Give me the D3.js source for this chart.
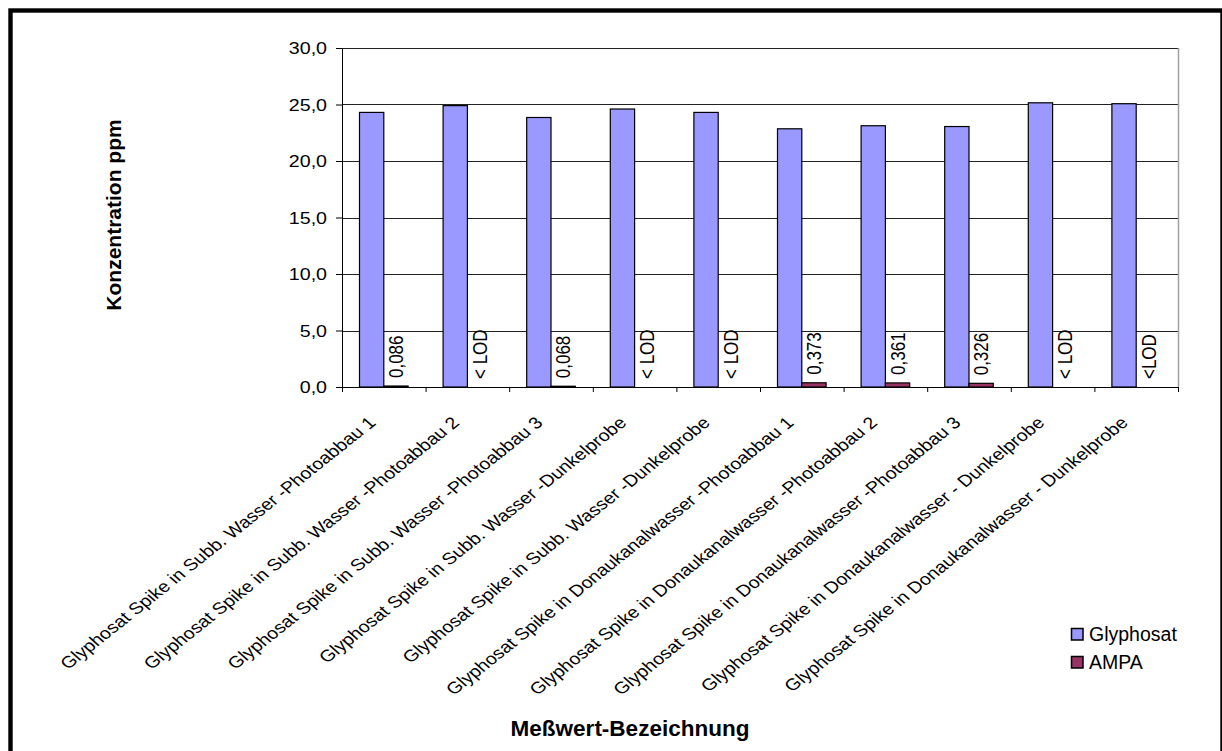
<!DOCTYPE html>
<html>
<head>
<meta charset="utf-8">
<script src="https://cdn.jsdelivr.net/npm/d3@7"></script>
<style>
  html, body { margin: 0; padding: 0; background: #fff; }
  svg { display: block; font-family: "Liberation Sans", Arial, sans-serif; }
</style>
</head>
<body>
<svg id="chart" width="1222" height="751"></svg>
<script>
// ---------------- data ----------------
const categories = [
  "Glyphosat Spike in Subb. Wasser -Photoabbau 1",
  "Glyphosat Spike in Subb. Wasser -Photoabbau 2",
  "Glyphosat Spike in Subb. Wasser -Photoabbau 3",
  "Glyphosat Spike in Subb. Wasser -Dunkelprobe",
  "Glyphosat Spike in Subb. Wasser -Dunkelprobe",
  "Glyphosat Spike in Donaukanalwasser -Photoabbau 1",
  "Glyphosat Spike in Donaukanalwasser -Photoabbau 2",
  "Glyphosat Spike in Donaukanalwasser -Photoabbau 3",
  "Glyphosat Spike in Donaukanalwasser - Dunkelprobe",
  "Glyphosat Spike in Donaukanalwasser - Dunkelprobe"
];
const glyphosat = [24.3, 24.9, 23.85, 24.6, 24.3, 22.85, 23.12, 23.05, 25.15, 25.07];
const ampa = [0.086, 0, 0.068, 0, 0, 0.373, 0.361, 0.326, 0, 0];
const ampaLabels = ["0,086", "< LOD", "0,068", "< LOD", "< LOD", "0,373", "0,361", "0,326", "< LOD", "<LOD"];
const seriesNames = ["Glyphosat", "AMPA"];
const seriesColors = ["#9999FF", "#993366"];
const yTicks = [0, 5, 10, 15, 20, 25, 30];
const yTitle = "Konzentration ppm";
const xTitle = "Meßwert-Bezeichnung";

// ---------------- layout ----------------
const plot = { left: 342, right: 1178, top: 48, bottom: 387 };
const SX = 1.19; // horizontal stretch of the reference text

const svg = d3.select("#chart");

// outer border
svg.append("rect")
  .attr("x", 10.5).attr("y", 10.5)
  .attr("width", 1212).attr("height", 800)
  .attr("fill", "none").attr("stroke", "#000").attr("stroke-width", 4.4);

const idx = d3.range(categories.length);
const x = d3.scaleBand().domain(idx).range([plot.left, plot.right]).paddingInner(0).paddingOuter(0);
const xs = d3.scaleBand().domain(seriesNames).range([0, x.bandwidth()]).paddingInner(0).paddingOuter(0.72);
const xLin = d3.scaleLinear().domain([0, categories.length]).range([plot.left, plot.right]);
const y = d3.scaleLinear().domain([0, 30]).range([plot.bottom, plot.top]);

// gridlines
svg.append("g").selectAll("line").data(yTicks.filter(d => d > 0)).join("line")
  .attr("x1", plot.left).attr("x2", plot.right)
  .attr("y1", d => Math.round(y(d)) + 0.5).attr("y2", d => Math.round(y(d)) + 0.5)
  .attr("stroke", "#222").attr("stroke-width", 1);

// right plot border
svg.append("line")
  .attr("x1", plot.right + 0.5).attr("x2", plot.right + 0.5)
  .attr("y1", plot.top).attr("y2", plot.bottom)
  .attr("stroke", "#a0a0a0").attr("stroke-width", 1.5);

// bars
const data = [glyphosat, ampa];
const gBars = svg.append("g");
seriesNames.forEach((s, si) => {
  gBars.append("g").selectAll("rect").data(data[si]).join("rect")
    .attr("x", (d, i) => x(i) + xs(s))
    .attr("y", d => y(d))
    .attr("width", xs.bandwidth())
    .attr("height", d => y(0) - y(d))
    .attr("fill", seriesColors[si])
    .attr("stroke", "#000").attr("stroke-width", 1.2);
});

// y axis
const yAxis = svg.append("g")
  .attr("transform", `translate(${plot.left},0)`)
  .call(d3.axisLeft(y).tickValues(yTicks).tickSize(6).tickSizeOuter(0)
    .tickFormat(d => d.toFixed(1).replace(".", ",")));
yAxis.select(".domain").attr("stroke", "#000");
yAxis.selectAll(".tick line").attr("stroke", "#000");
yAxis.selectAll(".tick text")
  .attr("x", null).attr("dy", "0.36em")
  .attr("transform", `translate(-15,0) scale(${SX},1)`)
  .attr("text-anchor", "end")
  .attr("font-size", 16.5).attr("fill", "#000")
  .attr("font-family", "Liberation Sans, Arial, sans-serif");

// x axis (ticks at category boundaries)
const xAxis = svg.append("g")
  .attr("transform", `translate(0,${plot.bottom})`)
  .call(d3.axisBottom(xLin).tickValues(d3.range(categories.length + 1)).tickSize(5).tickSizeOuter(0).tickFormat(""));
xAxis.select(".domain").attr("stroke", "#000");
xAxis.selectAll(".tick line").attr("stroke", "#000");

// x category labels
svg.append("g").selectAll("text").data(categories).join("text")
  .attr("transform", (d, i) => `translate(${x(i) + x.bandwidth() / 2 - 7},424) scale(${SX},1) rotate(-43.5)`)
  .attr("text-anchor", "end")
  .attr("font-size", 16.5).attr("fill", "#000")
  .text(d => d);

// AMPA value labels
svg.append("g").selectAll("text").data(ampaLabels).join("text")
  .attr("transform", (d, i) => `translate(${x(i) + xs("AMPA") + xs.bandwidth() / 2},${y(ampa[i]) - 8}) scale(${SX},1) rotate(-90)`)
  .attr("dy", "0.36em")
  .attr("text-anchor", "start")
  .attr("font-size", 17).attr("fill", "#000")
  .text(d => d);

// axis titles
svg.append("text")
  .attr("transform", `translate(121,215) rotate(-90)`)
  .attr("text-anchor", "middle")
  .attr("font-size", 21).attr("font-weight", "bold")
  .text(yTitle);
svg.append("text")
  .attr("x", 630).attr("y", 736)
  .attr("text-anchor", "middle")
  .attr("font-size", 22.5).attr("font-weight", "bold")
  .text(xTitle);

// legend
const legend = svg.append("g").selectAll("g").data(seriesNames).join("g")
  .attr("transform", (d, i) => `translate(1071,${628 + i * 28})`);
legend.append("rect")
  .attr("x", 0.5).attr("y", 0.5).attr("width", 11.5).attr("height", 11.5)
  .attr("fill", (d, i) => seriesColors[i])
  .attr("stroke", "#000").attr("stroke-width", 1.5);
legend.append("text")
  .attr("x", 18).attr("y", 13)
  .attr("font-size", 19.5).attr("fill", "#000")
  .text(d => d);
</script>
</body>
</html>
